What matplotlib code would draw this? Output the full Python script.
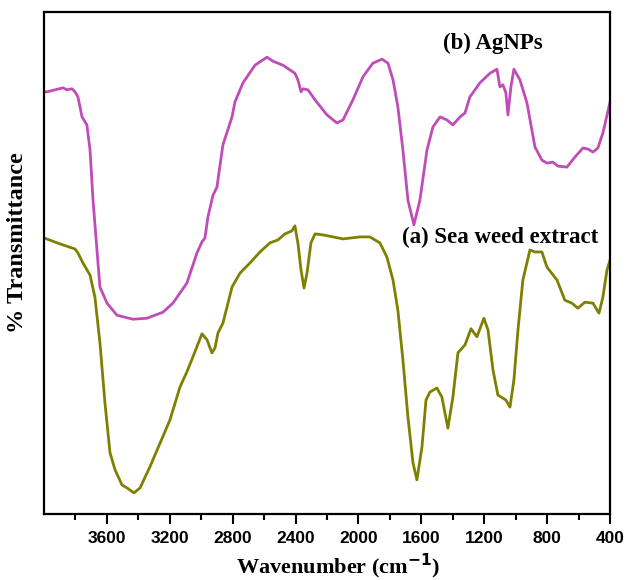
import numpy as np
import matplotlib.pyplot as plt

# FTIR spectra (wavenumber in cm-1, transmittance in arbitrary %)
wn_agnps = [4000, 3981, 3879, 3854, 3822, 3803, 3784, 3758, 3727, 3707, 3688, 3663,
            3644, 3599, 3536, 3434, 3345, 3243, 3180, 3091, 3027, 2995, 2976, 2957,
            2925, 2900, 2862, 2804, 2785, 2734, 2658, 2582, 2544, 2480, 2404, 2385,
            2365, 2353, 2321, 2276, 2200, 2137, 2098, 2035, 1971, 1908, 1850, 1812,
            1780, 1749, 1717, 1685, 1647, 1609, 1564, 1526, 1481, 1437, 1399, 1354,
            1322, 1291, 1272, 1227, 1163, 1119, 1100, 1081, 1062, 1049, 1030, 1011,
            973, 928, 877, 833, 801, 763, 731, 674, 623, 572, 540, 508, 477, 445, 400]
t_agnps = [84.1, 84.1, 84.9, 84.5, 84.7, 84.1, 83.1, 79.1, 77.5, 72.5, 62.5, 52.6,
           45.2, 42.0, 39.6, 38.8, 39.0, 40.2, 42.0, 46.0, 52.0, 54.2, 55.0, 59.2,
           63.5, 65.1, 73.5, 79.1, 82.1, 85.9, 89.4, 91.0, 90.2, 89.4, 87.8, 86.5,
           84.1, 84.7, 84.5, 82.5, 79.5, 77.9, 78.5, 82.5, 87.1, 89.8, 90.6, 89.8,
           86.5, 81.1, 72.5, 62.5, 57.6, 62.5, 72.5, 77.1, 79.1, 78.5, 77.5, 79.1,
           79.9, 83.1, 83.9, 85.9, 87.8, 88.6, 85.1, 85.5, 83.9, 79.5, 85.1, 88.6,
           86.5, 81.9, 73.1, 70.5, 69.9, 70.1, 69.3, 69.1, 71.1, 72.9, 72.7, 72.1,
           72.9, 75.9, 82.0]

wn_seaweed = [4000, 3898, 3803, 3784, 3752, 3707, 3676, 3644, 3612, 3580, 3548, 3504,
              3472, 3428, 3389, 3326, 3262, 3199, 3135, 3091, 3040, 2995, 2963, 2932,
              2912, 2893, 2862, 2836, 2804, 2753, 2690, 2626, 2563, 2512, 2467, 2423,
              2404, 2385, 2365, 2346, 2327, 2302, 2276, 2226, 2162, 2098, 1990, 1927,
              1863, 1819, 1780, 1749, 1717, 1685, 1653, 1628, 1596, 1570, 1545, 1501,
              1469, 1431, 1399, 1367, 1322, 1284, 1246, 1202, 1176, 1144, 1113, 1062,
              1036, 1011, 985, 954, 909, 877, 833, 801, 737, 687, 642, 604, 559, 508,
              470, 445, 419, 400]
t_seaweed = [55.0, 53.8, 52.8, 52.0, 50.0, 47.6, 43.2, 34.1, 22.1, 12.2, 8.8, 5.8,
             5.2, 4.2, 5.2, 9.4, 14.1, 18.7, 25.3, 28.3, 32.3, 35.9, 34.7, 32.1,
             33.1, 36.1, 38.0, 41.2, 45.2, 48.0, 50.0, 52.2, 54.0, 54.6, 55.8, 56.4,
             57.4, 54.0, 48.6, 45.0, 48.0, 54.0, 55.8, 55.6, 55.2, 54.8, 55.2, 55.2,
             54.0, 51.2, 46.6, 40.6, 30.7, 19.3, 10.2, 6.8, 13.3, 22.7, 24.3, 25.1,
             23.3, 17.1, 23.3, 32.1, 33.7, 36.9, 35.3, 39.0, 36.7, 28.7, 23.7, 22.7,
             21.3, 26.7, 36.7, 46.6, 52.6, 52.2, 52.2, 49.2, 46.6, 42.6, 42.0, 41.0,
             42.2, 42.0, 40.0, 43.2, 48.6, 50.5]

xticks = [3600, 3200, 2800, 2400, 2000, 1600, 1200, 800, 400]
xminor = [3800, 3400, 3000, 2600, 2200, 1800, 1400, 1000, 600]

fig = plt.figure(figsize=(6.3, 5.8), dpi=100)
ax = fig.add_axes([0.0698, 0.1138, 0.8984, 0.8655])

ax.plot(wn_agnps, t_agnps, color='#c04cb8', lw=2.0)
ax.plot(wn_seaweed, t_seaweed, color='#808000', lw=2.0)

ax.set_xlim(4000, 400)
ax.set_ylim(0, 100)

ax.set_xticks(xticks)
ax.set_xticks(xminor, minor=True)
ax.set_xticklabels([str(v) for v in xticks], fontfamily='Liberation Sans',
                   fontweight='bold', fontsize=12.5)
ax.set_yticks([])
ax.tick_params(axis='x', which='major', direction='out', length=7, width=1.5, pad=5)
ax.tick_params(axis='x', which='minor', direction='out', length=4, width=1.5)
for s in ax.spines.values():
    s.set_linewidth(1.6)

serif = 'Liberation Serif'
ax.set_xlabel('Wavenumber (cm$^{\\mathbf{-1}}$)', family=serif, fontweight='bold',
              fontsize=16)
ax.xaxis.set_label_coords(0.52, -0.075)
ax.set_ylabel('% Transmittance', family=serif, fontweight='bold', fontsize=17.5)
ax.yaxis.set_label_coords(-0.028, 0.54)

ax.text(1144, 93.8, '(b) AgNPs', family=serif, fontweight='bold', fontsize=16.5,
        ha='center', va='center')
ax.text(1100, 55.0, '(a) Sea weed extract', family=serif, fontweight='bold', fontsize=16.5,
        ha='center', va='center')

fig.savefig('out.png', dpi=100)
